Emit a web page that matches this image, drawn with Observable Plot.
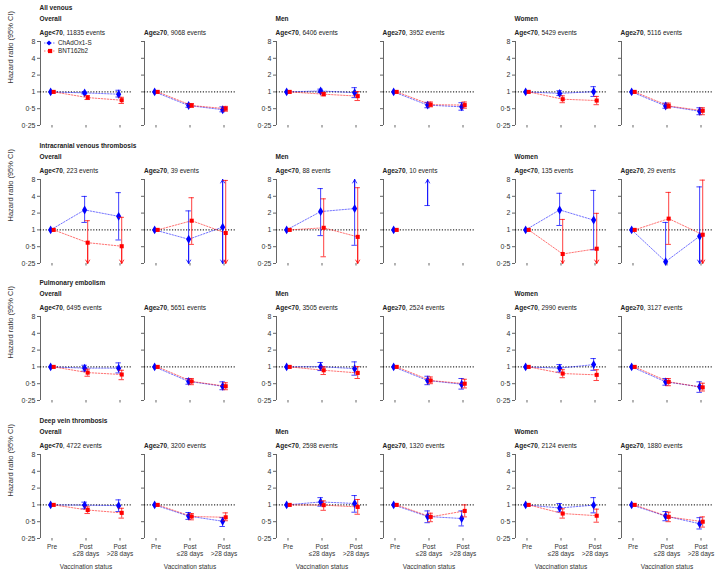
<!DOCTYPE html>
<html><head><meta charset="utf-8">
<script src="https://cdn.jsdelivr.net/npm/d3@7"></script>
<script src="https://cdn.jsdelivr.net/npm/@observablehq/plot@0.6"></script>
<style>
body{margin:0;background:#fff;}
#chart{position:relative;width:720px;height:574px;font-family:"Liberation Sans",Arial,sans-serif;color:#222;overflow:hidden}
.t{position:absolute;font-size:6.5px;line-height:8px;white-space:nowrap}
.panel{position:absolute}
.panel svg{display:block;max-width:none;overflow:visible}
</style></head>
<body><div id="chart"></div>
<script>
// ---------- data ----------
const statuses = ["Pre", "Post ≤28 days", "Post >28 days"];
const statusLabels = ["Pre", "Post\n≤28 days", "Post\n>28 days"];
const vaccines = ["ChAdOx1-S", "BNT162b2"];
const outcomeNames = ["All venous", "Intracranial venous thrombosis", "Pulmonary embolism", "Deep vein thrombosis"];
const groupNames = ["Overall", "Men", "Women"];
const ageLabels = ["Age<70", "Age≥70"];
const eventCounts = [
  [11835, 9068, 6406, 3952, 5429, 5116],
  [223, 39, 88, 10, 135, 29],
  [6495, 5651, 3505, 2524, 2990, 3127],
  [4722, 3200, 2598, 1320, 2124, 1880]
];
const yTicks = [0.25, 0.5, 1, 2, 4, 8];

// Hazard ratio [estimate, lower 95% CI, upper 95% CI] by vaccination status (Pre, Post ≤28, Post >28)
// panels: Overall <70, Overall ≥70, Men <70, Men ≥70, Women <70, Women ≥70
const allVenousChAdOx1 = [
  [[1,null,null],[0.96,0.92,1.00],[0.91,0.81,1.07]],
  [[1,null,null],[0.57,0.53,0.62],[0.48,0.44,0.54]],
  [[1,null,null],[1.04,0.97,1.12],[0.97,0.79,1.19]],
  [[1,null,null],[0.58,0.52,0.65],[0.54,0.47,0.64]],
  [[1,null,null],[0.94,0.86,1.05],[1.01,0.83,1.24]],
  [[1,null,null],[0.56,0.51,0.63],[0.45,0.39,0.52]]
];
const allVenousBNT162b2 = [
  [[1,null,null],[0.79,0.73,0.86],[0.71,0.62,0.80]],
  [[1,null,null],[0.57,0.53,0.62],[0.50,0.45,0.55]],
  [[1,null,null],[0.91,0.85,0.98],[0.84,0.70,1.01]],
  [[1,null,null],[0.59,0.54,0.66],[0.58,0.51,0.66]],
  [[1,null,null],[0.74,0.64,0.85],[0.70,0.59,0.83]],
  [[1,null,null],[0.56,0.51,0.63],[0.46,0.39,0.52]]
];
const icvtChAdOx1 = [
  [[1,null,null],[2.28,1.36,3.98],[1.75,0.66,4.65]],
  [[1,null,null],[0.68,0.12,2.19],[1.12,0.10,15]],
  [[1,null,null],[2.13,0.79,5.5],[2.41,0.53,12]],
  [[1,null,null],[null,2.73,20],[null,null,null]],
  [[1,null,null],[2.28,1.20,4.53],[1.50,0.44,5.1]],
  [[1,null,null],[0.27,0.10,1.36],[0.77,0.10,5.9]]
];
const icvtBNT162b2 = [
  [[1,null,null],[0.59,0.10,1.46],[0.51,0.10,1.68]],
  [[1,null,null],[1.46,0.55,3.77],[0.88,0.10,7.7]],
  [[1,null,null],[1.09,0.33,3.6],[0.75,0.10,5.7]],
  [[1,null,null],[null,null,null],[null,null,null]],
  [[1,null,null],[0.37,0.10,1.54],[0.46,0.10,1.98]],
  [[1,null,null],[1.59,0.55,4.7],[0.82,0.10,7.8]]
];
const peChAdOx1 = [
  [[1,null,null],[0.95,0.84,1.07],[0.95,0.78,1.18]],
  [[1,null,null],[0.55,0.49,0.62],[0.45,0.39,0.54]],
  [[1,null,null],[1.01,0.86,1.20],[0.93,0.71,1.23]],
  [[1,null,null],[0.57,0.48,0.68],[0.49,0.40,0.62]],
  [[1,null,null],[0.95,0.81,1.10],[1.10,0.87,1.41]],
  [[1,null,null],[0.54,0.47,0.62],[0.44,0.35,0.54]]
];
const peBNT162b2 = [
  [[1,null,null],[0.79,0.68,0.91],[0.73,0.59,0.87]],
  [[1,null,null],[0.55,0.48,0.62],[0.45,0.39,0.52]],
  [[1,null,null],[0.87,0.73,1.00],[0.78,0.62,1.01]],
  [[1,null,null],[0.57,0.50,0.66],[0.50,0.42,0.60]],
  [[1,null,null],[0.76,0.64,0.89],[0.72,0.57,0.89]],
  [[1,null,null],[0.54,0.46,0.62],[0.43,0.37,0.51]]
];
const dvtChAdOx1 = [
  [[1,null,null],[0.99,0.85,1.12],[0.97,0.76,1.23]],
  [[1,null,null],[0.63,0.55,0.73],[0.51,0.41,0.59]],
  [[1,null,null],[1.13,0.95,1.35],[1.06,0.74,1.47]],
  [[1,null,null],[0.62,0.48,0.78],[0.57,0.42,0.78]],
  [[1,null,null],[0.88,0.75,1.06],[0.99,0.72,1.35]],
  [[1,null,null],[0.63,0.52,0.76],[0.46,0.37,0.59]]
];
const dvtBNT162b2 = [
  [[1,null,null],[0.81,0.70,0.92],[0.72,0.58,0.87]],
  [[1,null,null],[0.62,0.54,0.70],[0.60,0.52,0.72]],
  [[1,null,null],[0.99,0.80,1.18],[0.92,0.68,1.25]],
  [[1,null,null],[0.61,0.50,0.71],[0.78,0.61,1.00]],
  [[1,null,null],[0.70,0.58,0.85],[0.64,0.49,0.84]],
  [[1,null,null],[0.61,0.50,0.74],[0.50,0.40,0.61]]
];

// ---------- layout ----------
const outcomeData = [
  [allVenousChAdOx1, allVenousBNT162b2],
  [icvtChAdOx1, icvtBNT162b2],
  [peChAdOx1, peBNT162b2],
  [dvtChAdOx1, dvtBNT162b2]
];
const colors = ["#0000ff", "#ff0000"];
const axisX = [39.5, 144, 275.5, 382.5, 514.5, 620.5];
const rowTop = [41, 178.5, 316, 453.5];
const plotW = 91, plotH = 84;
const xDomain = [-0.338, 2.338];
const yDomain = [0.25, 8];
const dodge = [-0.04, 0.05];
const capHalf = 0.08;
const fmtHR = d => String(d).replace(".", "·");

const chart = document.getElementById("chart");

function addText(html, left, top, bold) {
  const el = document.createElement("div");
  el.className = "t";
  el.style.left = left + "px";
  el.style.top = top + "px";
  if (bold) el.style.fontWeight = "bold";
  el.innerHTML = html;
  chart.appendChild(el);
}

for (let r = 0; r < 4; r++) {
  for (let c = 0; c < 6; c++) {
    const rows = [];
    for (let v = 0; v < 2; v++) {
      for (let s = 0; s < 3; s++) {
        const [est, lo, hi] = outcomeData[r][v][c][s];
        rows.push({
          vaccine: vaccines[v], v, x: s + dodge[v], est, lo, hi,
          loC: lo == null ? null : Math.max(lo, yDomain[0]),
          hiC: hi == null ? null : Math.min(hi, yDomain[1]),
          loClip: lo != null && lo < yDomain[0],
          hiClip: hi != null && hi > yDomain[1]
        });
      }
    }
    const ci = rows.filter(d => d.lo != null && d.hi != null);
    const last = r === 3;
    const mL = 40, mR = 4, mT = 4, mB = last ? 36 : 6;
    const marks = [
      Plot.ruleX([xDomain[0]], {y1: yDomain[0], y2: yDomain[1], stroke: "#666", strokeWidth: 1}),
      Plot.axisY({ticks: yTicks, tickSize: 3, tickPadding: 2, tickFormat: c % 2 === 0 ? fmtHR : () => "", fontSize: 7, stroke: "#666", label: null}),
      Plot.axisX({ticks: [0, 1, 2], tickSize: 2.5, tickFormat: () => "", stroke: "#666", label: null}),
      Plot.ruleY([1], {stroke: "#000", strokeDasharray: "1.2,1.6", strokeWidth: 1})
    ];
    if (c === 0) marks.push(Plot.text(["Hazard ratio (95% CI)"], {frameAnchor: "left", rotate: -90, dx: -29.5, fontSize: 7.5, fill: "#333"}));
    if (last) {
      marks.push(Plot.text(statusLabels, {x: (d, i) => i, frameAnchor: "bottom", lineAnchor: "top", dy: 5.3, fontSize: 6.5, lineHeight: 1.08, fill: "#333"}));
      marks.push(Plot.text(["Vaccination status"], {frameAnchor: "bottom", lineAnchor: "middle", dy: 28.7, fontSize: 6.5, fill: "#333"}));
    }
    for (let v = 0; v < 2; v++) {
      const rv = rows.filter(d => d.v === v);
      const cv = ci.filter(d => d.v === v);
      marks.push(
        Plot.line(rv, {x: "x", y: "est", stroke: colors[v], strokeOpacity: 0.55, strokeDasharray: "1.5,1.5", strokeWidth: 1}),
        Plot.ruleX(cv, {x: "x", y1: "loC", y2: "hiC", stroke: colors[v], strokeOpacity: 0.75, strokeWidth: 1}),
        Plot.ruleY(cv.filter(d => !d.loClip), {x1: d => d.x - capHalf, x2: d => d.x + capHalf, y: "lo", stroke: colors[v], strokeOpacity: 0.75, strokeWidth: 1}),
        Plot.ruleY(cv.filter(d => !d.hiClip), {x1: d => d.x - capHalf, x2: d => d.x + capHalf, y: "hi", stroke: colors[v], strokeOpacity: 0.75, strokeWidth: 1}),
        Plot.arrow(cv.filter(d => d.loClip), {x1: "x", x2: "x", y1: d => d.est != null ? d.est : d.hiC, y2: "loC", stroke: colors[v], strokeOpacity: 0.8, strokeWidth: 1, headLength: 6, headAngle: 60}),
        Plot.arrow(cv.filter(d => d.hiClip), {x1: "x", x2: "x", y1: d => d.est != null ? d.est : d.loC, y2: "hiC", stroke: colors[v], strokeOpacity: 0.8, strokeWidth: 1, headLength: 6, headAngle: 60}),
        Plot.dot(rv, {x: "x", y: "est", symbol: v === 0 ? "diamond" : "square", r: v === 0 ? 2.7 : 2.3, fill: colors[v], stroke: "none"})
      );
    }
    const svg = Plot.plot({
      width: mL + plotW + mR, height: mT + plotH + mB,
      marginLeft: mL, marginRight: mR, marginTop: mT, marginBottom: mB,
      style: {background: "transparent", fontFamily: "'Liberation Sans', Arial, sans-serif", color: "#333", overflow: "visible"},
      x: {domain: xDomain},
      y: {type: "log", base: 2, domain: yDomain},
      marks
    });
    const wrap = document.createElement("div");
    wrap.className = "panel";
    wrap.style.left = (axisX[c] - mL) + "px";
    wrap.style.top = (rowTop[r] - mT) + "px";
    wrap.appendChild(svg);
    chart.appendChild(wrap);

    // titles
    if (c === 0) addText(outcomeNames[r], axisX[c], rowTop[r] - 37, true);
    if (c % 2 === 0) addText(groupNames[c / 2], axisX[c], rowTop[r] - 25.7, true);
    addText(`<b>${ageLabels[c % 2]}</b>, ${eventCounts[r][c]} events`, axisX[c], rowTop[r] - 11.7, false);
  }
}

// legend (first panel)
const leg = document.createElement("div");
leg.style.cssText = "position:absolute;left:43px;top:39px;font-size:6.3px;line-height:8px;";
vaccines.forEach((name, v) => {
  const row = document.createElement("div");
  row.style.cssText = "display:flex;align-items:center;height:8px;";
  const sym = v === 0
    ? `<path d="M6,1.4L8.6,4L6,6.6L3.4,4Z" fill="${colors[0]}"/>`
    : `<rect x="5" y="1.9" width="4.2" height="4.2" fill="${colors[1]}"/>`;
  row.innerHTML = `<svg width="14" height="8" style="overflow:visible"><line x1="1" x2="12" y1="4" y2="4" stroke="${colors[v]}" stroke-opacity="0.55" stroke-dasharray="1.5,1.5"/>${sym}</svg><span style="margin-left:1px">${name}</span>`;
  leg.appendChild(row);
});
chart.appendChild(leg);
</script>
</body></html>
